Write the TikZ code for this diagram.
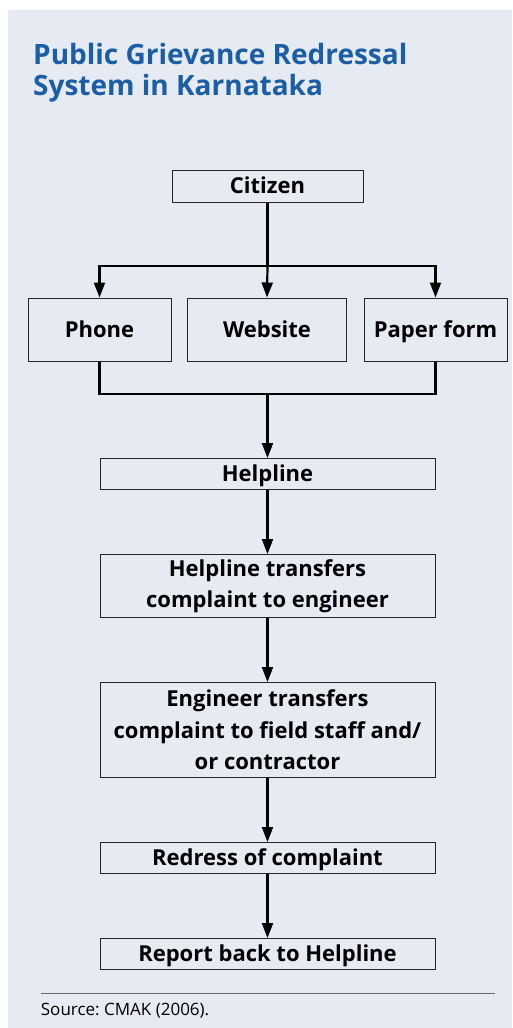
\documentclass[tikz,border=0pt]{standalone}
\usepackage{fontspec}
\setmainfont{Open Sans}
\frenchspacing
\usetikzlibrary{arrows.meta,positioning}
\definecolor{panel}{HTML}{E6EAF3}
\definecolor{titleblue}{HTML}{1B5EA6}
\definecolor{rulegray}{HTML}{6A6A6A}
\begin{document}
\begin{tikzpicture}[x=1pt,y=-1pt,
  box/.style={draw=black!85, line width=1pt, fill=panel, inner sep=0pt, align=center,
    font=\bfseries\fontsize{22}{31.5}\selectfont, minimum width=335pt},
  oneline/.style={text height=15.7pt, text depth=0pt},
  conn/.style={line width=2.2pt, black},
  arr/.style={conn, -{Triangle[width=11pt,length=15pt]}},
  titletext/.style={anchor=base west, inner sep=0pt, text=titleblue, font=\bfseries\fontsize{28}{31}\selectfont},
  ]
\useasboundingbox (0,0) rectangle (512,1028);
\fill[white] (0,0) rectangle (512,1028);
\fill[panel] (8,10) rectangle (512,1028);
\node[titletext] (t1) at (33,64) {Public Grievance Redressal};
\node[titletext] (t2) at (33,95) {System in Karnataka};

\node[box, oneline, minimum width=191pt, minimum height=32pt] (citizen) at (267.5,186) {Citizen};
\node[box, oneline, minimum width=143pt, minimum height=63pt] (phone) at (99.5,329.5) {Phone};
\node[box, oneline, minimum width=159pt, minimum height=63pt] (website) at (267,329.5) {Website};
\node[box, oneline, minimum width=143pt, minimum height=63pt] (paper) at (435.5,329.5) {Paper form};
\node[box, oneline, minimum height=31pt] (helpline) at (267.5,474) {Helpline};
\node[box, minimum height=63pt] (transfer) at (267.5,586) {Helpline transfers\\complaint to engineer};
\node[box, minimum height=95pt] (engineer) at (267.5,730) {Engineer transfers\\complaint to field staff and/\\or contractor};
\node[box, oneline, minimum height=31pt] (redress) at (267.5,858) {Redress of complaint};
\node[box, oneline, minimum height=31pt] (report) at (267.5,954) {Report back to Helpline};

\coordinate (br) at (267.5,266);
\coordinate (mg) at (267.5,394);
\draw[conn] (citizen.south) -- (br);
\draw[arr] (br) -| (phone.north);
\draw[arr] (br) -| (paper.north);
\draw[arr] (br) -- (website.north);
\draw[conn] (phone.south) |- (mg);
\draw[conn] (paper.south) |- (mg);
\draw[arr] (mg) -- (helpline.north);
\draw[arr] (helpline) -- (transfer);
\draw[arr] (transfer) -- (engineer);
\draw[arr] (engineer) -- (redress);
\draw[arr] (redress) -- (report);

\coordinate (r1) at (40.7,993.3);
\coordinate (r2) at (495,993.3);
\draw[rulegray, line width=1pt] (r1) -- (r2);
\node[anchor=base west, inner sep=0pt, font=\fontsize{17}{20}\selectfont] (src) at (40.7,1015) {Source: CMAK (2006).};
\end{tikzpicture}
\end{document}
